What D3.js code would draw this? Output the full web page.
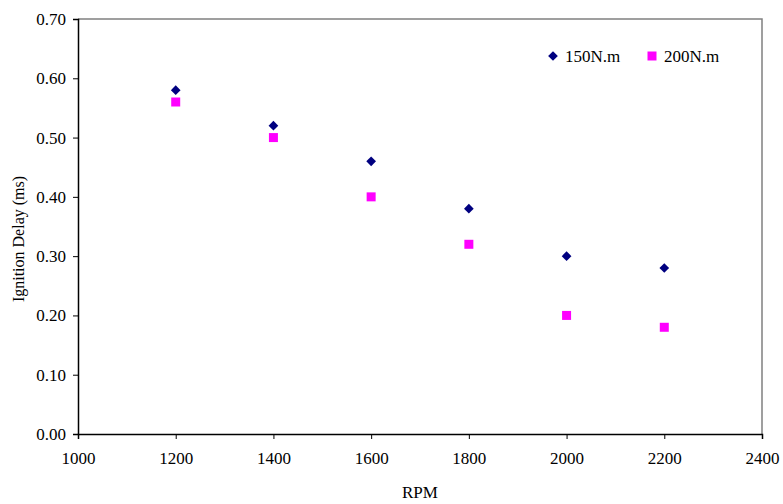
<!DOCTYPE html>
<html>
<head>
<meta charset="utf-8">
<script src="https://cdn.jsdelivr.net/npm/d3@7"></script>
<style>
  body { margin: 0; background: #fff; }
  svg text { font-family: "Liberation Serif", "Times New Roman", serif; fill: #000; }
</style>
</head>
<body>
<div id="chart"></div>
<script>
const rpm = [1200, 1400, 1600, 1800, 2000, 2200]
const delay150 = [0.58, 0.52, 0.46, 0.38, 0.30, 0.28]
const delay200 = [0.56, 0.50, 0.40, 0.32, 0.20, 0.18]
const seriesNames = ["150N.m", "200N.m"]
const xTicks = [1000, 1200, 1400, 1600, 1800, 2000, 2200, 2400]
const yTicks = [0, 0.1, 0.2, 0.3, 0.4, 0.5, 0.6, 0.7]

const width = 783, height = 504
const margin = {top: 19, right: 21, bottom: 70, left: 78}

const svg = d3.select("#chart").append("svg")
    .attr("width", width)
    .attr("height", height)

const x = d3.scaleLinear().domain([1000, 2400]).range([margin.left, width - margin.right])
const y = d3.scaleLinear().domain([0, 0.7]).range([height - margin.bottom, margin.top])

// plot frame: grey top and right edges
svg.append("path")
    .attr("d", `M${x(1000)},${y(0.7)}H${x(2400)}V${y(0)}`)
    .attr("fill", "none")
    .attr("stroke", "#808080")
    .attr("stroke-width", 1.5)

const xAxis = svg.append("g")
    .attr("transform", `translate(0,${y(0)})`)
    .call(d3.axisBottom(x).tickValues(xTicks).tickSize(5).tickPadding(13).tickFormat(d3.format("d")))
xAxis.select(".domain").attr("stroke-width", 1.5)
xAxis.selectAll("text").attr("font-size", 17)

const yAxis = svg.append("g")
    .attr("transform", `translate(${x(1000)},0)`)
    .call(d3.axisLeft(y).tickValues(yTicks).tickSize(5).tickPadding(7).tickFormat(d3.format(".2f")))
yAxis.select(".domain").attr("stroke-width", 1.5)
yAxis.selectAll("text").attr("font-size", 17)

svg.append("text")
    .attr("x", (x(1000) + x(2400)) / 2)
    .attr("y", 498)
    .attr("text-anchor", "middle")
    .attr("font-size", 17)
    .text("RPM")

svg.append("text")
    .attr("transform", `translate(24,239) rotate(-90)`)
    .attr("text-anchor", "middle")
    .attr("font-size", 16)
    .text("Ignition Delay (ms)")

const diamond = d3.symbol().type(d3.symbolDiamond2).size(60)
const square = d3.symbol().type(d3.symbolSquare).size(81)

svg.append("g")
  .selectAll("path")
  .data(rpm.map((r, i) => [r, delay150[i]]))
  .join("path")
    .attr("transform", d => `translate(${x(d[0])},${y(d[1])})`)
    .attr("d", diamond)
    .attr("fill", "#000080")

svg.append("g")
  .selectAll("path")
  .data(rpm.map((r, i) => [r, delay200[i]]))
  .join("path")
    .attr("transform", d => `translate(${x(d[0])},${y(d[1])})`)
    .attr("d", square)
    .attr("fill", "#ff00ff")

// legend
const legend = svg.append("g").attr("transform", "translate(553,56)")
const items = legend.selectAll("g")
  .data(seriesNames)
  .join("g")
    .attr("transform", (d, i) => `translate(${i * 99},0)`)
items.append("path")
    .attr("d", (d, i) => i === 0 ? diamond() : square())
    .attr("fill", (d, i) => i === 0 ? "#000080" : "#ff00ff")
items.append("text")
    .attr("x", 12)
    .attr("dy", "0.35em")
    .attr("font-size", 17)
    .text(d => d)
</script>
</body>
</html>
